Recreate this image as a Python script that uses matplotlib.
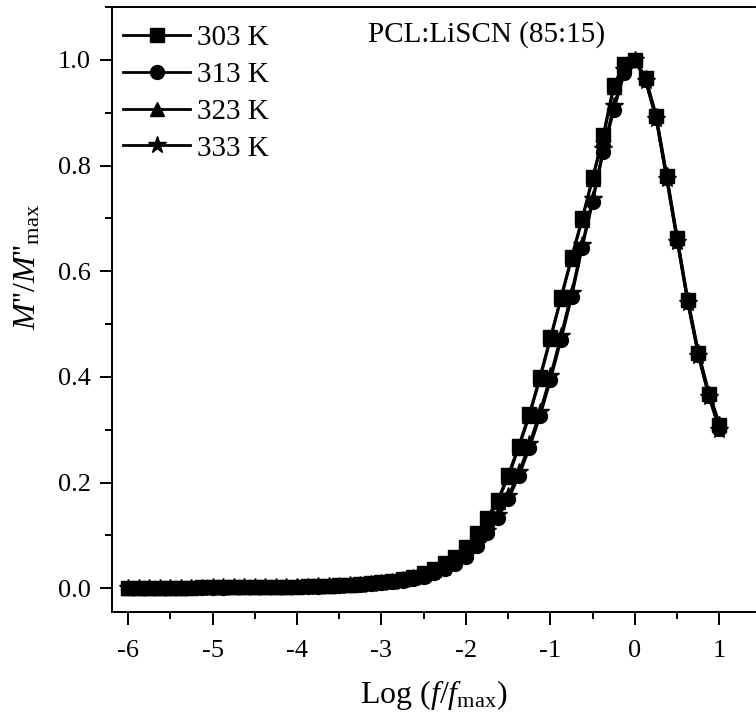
"""
Normalised electric modulus M''/M''max versus log(f/fmax) for PCL:LiSCN (85:15).
"""
import matplotlib
matplotlib.use("Agg")
import matplotlib.pyplot as plt
from matplotlib.ticker import MultipleLocator

plt.rcParams["font.family"] = ["Liberation Serif", "DejaVu Serif"]
plt.rcParams["mathtext.fontset"] = "custom"
plt.rcParams["mathtext.rm"] = "Liberation Serif"
plt.rcParams["mathtext.it"] = "Liberation Serif:italic"

# common normalised frequency grid (8 points per decade)
log_f_norm = [
    -6.000, -5.875, -5.750, -5.625, -5.500, -5.375, -5.250, -5.125,
    -5.000, -4.875, -4.750, -4.625, -4.500, -4.375, -4.250, -4.125,
    -4.000, -3.875, -3.750, -3.625, -3.500, -3.375, -3.250, -3.125,
    -3.000, -2.875, -2.750, -2.625, -2.500, -2.375, -2.250, -2.125,
    -2.000, -1.875, -1.750, -1.625, -1.500, -1.375, -1.250, -1.125,
    -1.000, -0.875, -0.750, -0.625, -0.500, -0.375, -0.250, -0.125,
    0.000, 0.125, 0.250, 0.375, 0.500, 0.625, 0.750, 0.875, 1.000,
]

m_303 = [
    0.001, 0.001, 0.001, 0.001, 0.001, 0.001, 0.001, 0.002,
    0.002, 0.002, 0.002, 0.002, 0.002, 0.003, 0.003, 0.003,
    0.003, 0.004, 0.004, 0.005, 0.006, 0.007, 0.008, 0.009,
    0.011, 0.014, 0.018, 0.022, 0.028, 0.036, 0.047, 0.059,
    0.078, 0.104, 0.133, 0.167, 0.214, 0.270, 0.330, 0.400,
    0.475, 0.551, 0.627, 0.700, 0.778, 0.858, 0.953, 0.993,
    1.000, 0.965, 0.893, 0.780, 0.662, 0.545, 0.445, 0.368, 0.308,
]

m_313 = [
    0.000, 0.000, 0.001, 0.001, 0.001, 0.001, 0.001, 0.001,
    0.001, 0.001, 0.002, 0.002, 0.002, 0.002, 0.002, 0.002,
    0.003, 0.003, 0.003, 0.004, 0.005, 0.006, 0.007, 0.008,
    0.009, 0.011, 0.014, 0.018, 0.022, 0.028, 0.036, 0.046,
    0.060, 0.080, 0.104, 0.133, 0.168, 0.212, 0.265, 0.325,
    0.394, 0.470, 0.551, 0.644, 0.731, 0.826, 0.905, 0.975,
    1.000, 0.962, 0.890, 0.776, 0.658, 0.542, 0.442, 0.364, 0.302,
]

m_323 = [
    0.001, 0.001, 0.001, 0.001, 0.001, 0.001, 0.002, 0.002,
    0.002, 0.002, 0.002, 0.002, 0.003, 0.003, 0.003, 0.003,
    0.004, 0.004, 0.004, 0.005, 0.006, 0.007, 0.008, 0.009,
    0.011, 0.013, 0.017, 0.021, 0.027, 0.035, 0.045, 0.058,
    0.076, 0.101, 0.130, 0.164, 0.210, 0.266, 0.326, 0.396,
    0.471, 0.548, 0.623, 0.697, 0.775, 0.853, 0.948, 0.990,
    1.000, 0.967, 0.896, 0.783, 0.664, 0.548, 0.448, 0.370, 0.312,
]

m_333 = [
    0.001, 0.001, 0.001, 0.001, 0.001, 0.001, 0.001, 0.001,
    0.002, 0.002, 0.002, 0.002, 0.002, 0.002, 0.003, 0.003,
    0.003, 0.003, 0.004, 0.004, 0.005, 0.006, 0.007, 0.008,
    0.010, 0.012, 0.015, 0.019, 0.024, 0.030, 0.038, 0.049,
    0.063, 0.084, 0.108, 0.138, 0.174, 0.219, 0.272, 0.333,
    0.402, 0.478, 0.559, 0.650, 0.737, 0.832, 0.912, 0.980,
    1.000, 0.960, 0.888, 0.774, 0.656, 0.540, 0.440, 0.362, 0.300,
]

series = [
    ("303 K", m_303, "s", 9.5),
    ("313 K", m_313, "o", 10),
    ("323 K", m_323, "^", 10.5),
    ("333 K", m_333, "*", 13),
]

fig = plt.figure(figsize=(7.56, 7.21), dpi=100)
ax = fig.add_axes([0.1481, 0.1512, 0.8505, 0.8391])

for label, values, marker, size in series:
    ax.plot(log_f_norm, values, color="black", linewidth=2.0,
            marker=marker, markersize=size, label=label)

ax.set_xlim(-6.19, 1.42)
ax.set_ylim(-0.045, 1.10)

ax.xaxis.set_major_locator(MultipleLocator(1))
ax.xaxis.set_minor_locator(MultipleLocator(0.5))
ax.yaxis.set_major_locator(MultipleLocator(0.2))
ax.yaxis.set_minor_locator(MultipleLocator(0.1))
ax.xaxis.set_major_formatter(plt.FuncFormatter(lambda v, p: f"{v:.0f}"))
ax.yaxis.set_major_formatter(plt.FuncFormatter(lambda v, p: f"{v:.1f}"))

ax.tick_params(which="both", direction="out", width=1.4, labelsize=19,
               top=False, right=False)
ax.tick_params(axis="x", which="major", length=9, pad=11)
ax.tick_params(axis="y", which="major", length=9, pad=6)
ax.tick_params(which="minor", length=5)
ax.spines["right"].set_visible(False)
for side in ("left", "bottom", "top"):
    ax.spines[side].set_linewidth(1.4)

ax.set_xlabel(r"Log $\left(f/f_{\mathrm{max}}\right)$", fontsize=23, labelpad=12)
ax.set_ylabel(r"$M$''/$M$''$_{\mathrm{max}}$", fontsize=23)
ax.yaxis.set_label_coords(-0.108, 0.57)

ax.text(0.398, 0.955, "PCL:LiSCN (85:15)", transform=ax.transAxes,
        fontsize=21, ha="left", va="center")

ax.legend(loc="upper left", bbox_to_anchor=(-0.01, 1.0), frameon=False,
          fontsize=21, handlelength=2.3, handletextpad=0.25,
          labelspacing=0.36, borderaxespad=0.2)

fig.savefig("out.png", dpi=100)
plt.close(fig)
